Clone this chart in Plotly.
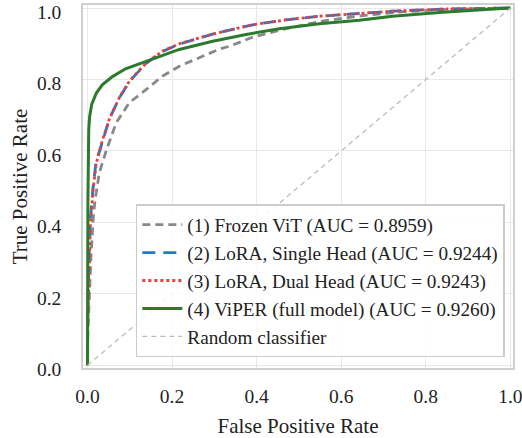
import plotly.graph_objects as go

# ---- data ----
frozen_fpr = [0, 0.0, 0.003, 0.008, 0.014, 0.018, 0.028, 0.038, 0.045, 0.068, 0.099, 0.139, 0.177, 0.217, 0.272, 0.312, 0.336, 0.39, 0.454, 0.548, 0.645, 0.75, 0.85, 0.93, 1.0]
frozen_tpr = [0, 0.05, 0.15, 0.30, 0.417, 0.463, 0.539, 0.575, 0.603, 0.679, 0.735, 0.772, 0.809, 0.837, 0.865, 0.885, 0.893, 0.918, 0.938, 0.962, 0.978, 0.990, 0.996, 0.999, 1.0]

single_fpr = [0, 0.0, 0.002, 0.004, 0.006, 0.009, 0.0125, 0.02, 0.036, 0.052, 0.076, 0.1, 0.115, 0.139, 0.163, 0.177, 0.217, 0.296, 0.39, 0.47, 0.548, 0.643, 0.721, 0.84, 0.93, 1.0]
single_tpr = [0, 0.10, 0.22, 0.30, 0.40, 0.44, 0.49, 0.567, 0.632, 0.69, 0.75, 0.795, 0.815, 0.845, 0.866, 0.878, 0.899, 0.927, 0.953, 0.967, 0.977, 0.985, 0.991, 0.997, 0.999, 1.0]

dual_fpr = [0, 0.0, 0.003, 0.005, 0.007, 0.010, 0.013, 0.021, 0.036, 0.052, 0.076, 0.1, 0.115, 0.139, 0.163, 0.177, 0.217, 0.296, 0.39, 0.47, 0.548, 0.643, 0.721, 0.84, 0.93, 1.0]
dual_tpr = [0, 0.09, 0.21, 0.30, 0.40, 0.44, 0.49, 0.567, 0.633, 0.69, 0.751, 0.797, 0.816, 0.846, 0.867, 0.879, 0.900, 0.927, 0.953, 0.967, 0.977, 0.985, 0.991, 0.997, 0.999, 1.0]

viper_fpr = [0, 0.0, 0.001, 0.003, 0.005, 0.01, 0.017, 0.021, 0.035, 0.052, 0.059, 0.09, 0.139, 0.217, 0.296, 0.375, 0.454, 0.548, 0.643, 0.721, 0.84, 0.957, 1.0]
viper_tpr = [0, 0.20, 0.46, 0.66, 0.696, 0.73, 0.752, 0.762, 0.785, 0.80, 0.808, 0.83, 0.85, 0.884, 0.907, 0.926, 0.942, 0.956, 0.966, 0.977, 0.988, 0.996, 1.0]

random_x = [0, 1]
random_y = [0, 1]

labels = [
    "(1) Frozen ViT (AUC = 0.8959)",
    "(2) LoRA, Single Head (AUC = 0.9244)",
    "(3) LoRA, Dual Head (AUC = 0.9243)",
    "(4) ViPER (full model) (AUC = 0.9260)",
    "Random classifier",
]

FONT = "Liberation Serif, Times New Roman, serif"

fig = go.Figure()
fig.add_trace(go.Scatter(x=frozen_fpr, y=frozen_tpr, mode="lines", name=labels[0],
                         line=dict(color="#888888", width=2.8, dash="8px,5px")))
fig.add_trace(go.Scatter(x=single_fpr, y=single_tpr, mode="lines", name=labels[1],
                         line=dict(color="#2277D0", width=2.8, dash="13px,8px")))
fig.add_trace(go.Scatter(x=dual_fpr, y=dual_tpr, mode="lines", name=labels[2],
                         line=dict(color="#E8403C", width=2.8, dash="3px,3px")))
fig.add_trace(go.Scatter(x=viper_fpr, y=viper_tpr, mode="lines", name=labels[3],
                         line=dict(color="#2C7B2C", width=3.0)))
fig.add_trace(go.Scatter(x=random_x, y=random_y, mode="lines", name=labels[4],
                         line=dict(color="#BBBBBB", width=1.3, dash="5px,4px")))

axis_common = dict(
    showgrid=True, gridcolor="#E8E8E8", gridwidth=1,
    showline=True, mirror=True, linecolor="#CFCFCF", linewidth=1.5,
    zeroline=False, ticks="outside", tickcolor="rgba(0,0,0,0)",
    tickfont=dict(family=FONT, size=19.5, color="#222222"),
    tickformat=".1f", dtick=0.2, tick0=0,
    ticklabeloverflow="allow", automargin=False,
)

fig.update_layout(
    width=522, height=438,
    margin=dict(l=83, r=9, t=5, b=70),
    paper_bgcolor="white", plot_bgcolor="white",
    font=dict(family=FONT, size=19.5, color="#222222"),
    xaxis=dict(range=[-0.0106, 1.0062], ticklen=10,
               title=dict(text="False Positive Rate", font=dict(family=FONT, size=21), standoff=20),
               **axis_common),
    yaxis=dict(range=[-0.0076, 1.0084], ticklen=16, ticklabelshift=4,
               title=dict(text="True Positive Rate", font=dict(family=FONT, size=21), standoff=4),
               **axis_common),
    legend=dict(x=0.981, y=0.03, xanchor="right", yanchor="bottom",
                bgcolor="rgba(255,255,255,0.85)", bordercolor="#CCCCCC", borderwidth=1.5,
                font=dict(family=FONT, size=19.2, color="#222222"),
                itemwidth=40, tracegroupgap=0),
    showlegend=True,
)

fig.write_html("out.html",
               config={"displayModeBar": False},
               post_script="document.body.style.margin='0';document.body.style.overflow='hidden';")
